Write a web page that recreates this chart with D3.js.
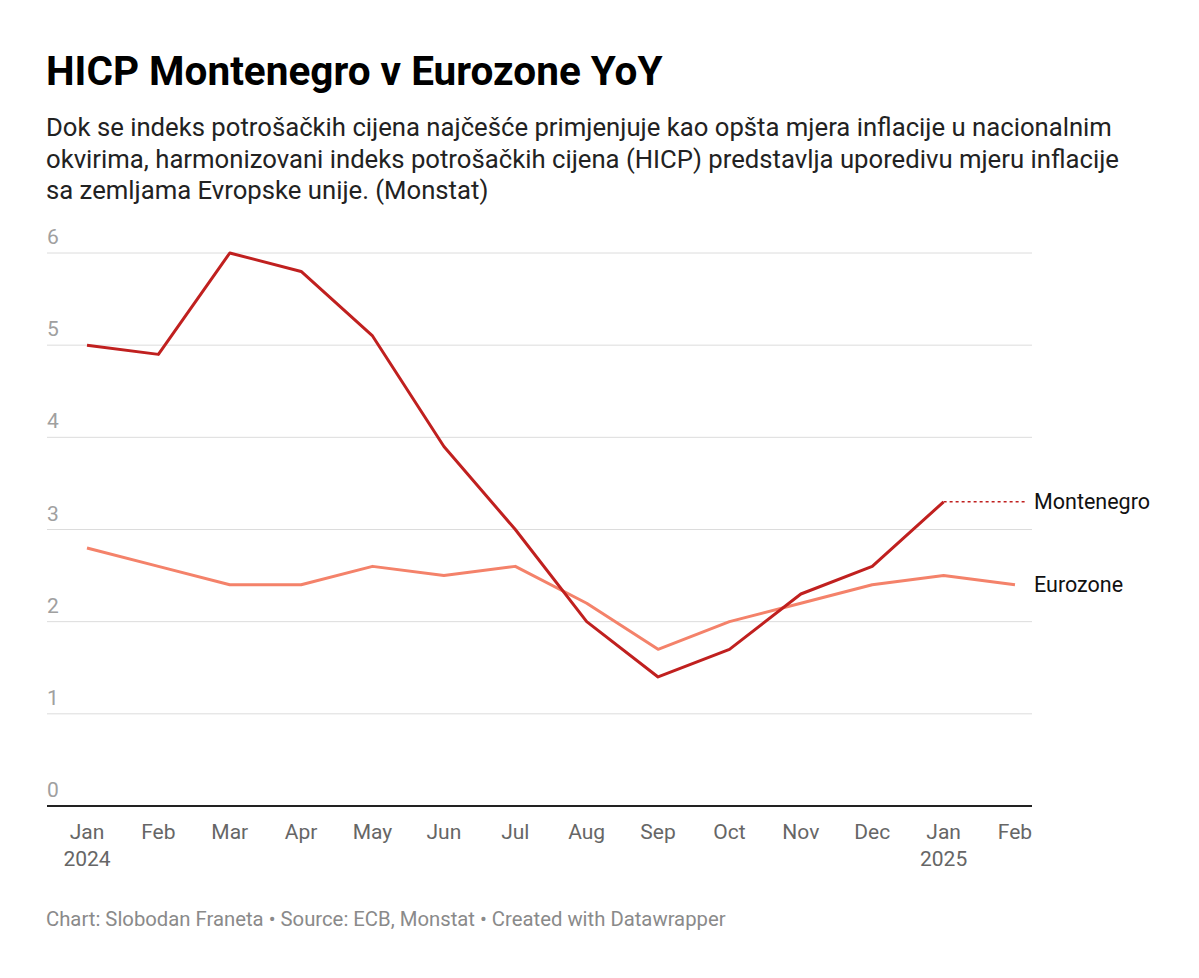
<!DOCTYPE html>
<html><head><meta charset="utf-8">
<script src="https://cdn.jsdelivr.net/npm/d3@7"></script>
<style>
body{margin:0;background:#fff;font-family:Roboto,"Noto Sans",sans-serif;}
</style></head>
<body><svg id="c" width="1199" height="978"></svg>
<script>
const months = ["Jan","Feb","Mar","Apr","May","Jun","Jul","Aug","Sep","Oct","Nov","Dec","Jan","Feb"];
const years = ["2024","","","","","","","","","","","","2025",""];
const montenegro = [5.0,4.9,6.0,5.8,5.1,3.9,3.0,2.0,1.4,1.7,2.3,2.6,3.3,null];
const eurozone = [2.8,2.6,2.4,2.4,2.6,2.5,2.6,2.2,1.7,2.0,2.2,2.4,2.5,2.4];
const yTicks = [0,1,2,3,4,5,6];
const title = "HICP Montenegro v Eurozone YoY";
const subtitle = ["Dok se indeks potrošačkih cijena najčešće primjenjuje kao opšta mjera inflacije u nacionalnim",
"okvirima, harmonizovani indeks potrošačkih cijena (HICP) predstavlja uporedivu mjeru inflacije",
"sa zemljama Evropske unije. (Monstat)"];
const footer = "Chart: Slobodan Franeta • Source: ECB, Monstat • Created with Datawrapper";

const svg = d3.select("#c");
svg.append("text").attr("x",46).attr("y",85).attr("font-size",40.5).attr("font-weight",700).attr("fill","#000").text(title);
subtitle.forEach((s,i)=>svg.append("text").attr("x",46).attr("y",136+i*31.5).attr("font-size",25.7).attr("fill","#222").text(s));

const left=47, right=1032;
const x = d3.scalePoint().domain(d3.range(months.length)).range([87,1015]);
const y = d3.scaleLinear().domain([0,6]).range([806,253]);

const g = svg.append("g");
yTicks.forEach(t=>{
  if(t>0) g.append("line").attr("x1",left).attr("x2",right).attr("y1",y(t)).attr("y2",y(t)).attr("stroke","#dcdcdc").attr("stroke-width",1);
  g.append("text").attr("x",left).attr("y",y(t)-9).attr("font-size",21).attr("fill","#a0a0a0").text(t);
});
g.append("line").attr("x1",left).attr("x2",right).attr("y1",y(0)).attr("y2",y(0)).attr("stroke","#222").attr("stroke-width",2);

months.forEach((m,i)=>{
  g.append("text").attr("x",x(i)).attr("y",839).attr("text-anchor","middle").attr("font-size",21).attr("fill","#666").text(m);
  if(years[i]) g.append("text").attr("x",x(i)).attr("y",866).attr("text-anchor","middle").attr("font-size",21).attr("fill","#666").text(years[i]);
});

const line = d3.line().defined(d=>d[1]!=null).x(d=>x(d[0])).y(d=>y(d[1]));
g.append("path").datum(eurozone.map((v,i)=>[i,v])).attr("d",line).attr("fill","none").attr("stroke","#f4826a").attr("stroke-width",3).attr("stroke-linejoin","round");
g.append("path").datum(montenegro.map((v,i)=>[i,v])).attr("d",line).attr("fill","none").attr("stroke","#c0201f").attr("stroke-width",3).attr("stroke-linejoin","round");

const lastM = montenegro.reduce((a,v,i)=>v!=null?i:a,0);
g.append("line").attr("x1",x(lastM)).attr("x2",1027).attr("y1",y(montenegro[lastM])).attr("y2",y(montenegro[lastM])).attr("stroke","#c0201f").attr("stroke-width",1.5).attr("stroke-dasharray","3,3");
g.append("text").attr("x",1034).attr("y",y(montenegro[lastM])).attr("dy","0.35em").attr("font-size",21.5).attr("fill","#111").text("Montenegro");
const lastE = eurozone.length-1;
g.append("text").attr("x",1034).attr("y",y(eurozone[lastE])).attr("dy","0.35em").attr("font-size",21.5).attr("fill","#111").text("Eurozone");

svg.append("text").attr("x",46).attr("y",926).attr("font-size",20.3).attr("fill","#8a8a8a").text(footer);
</script></body></html>
